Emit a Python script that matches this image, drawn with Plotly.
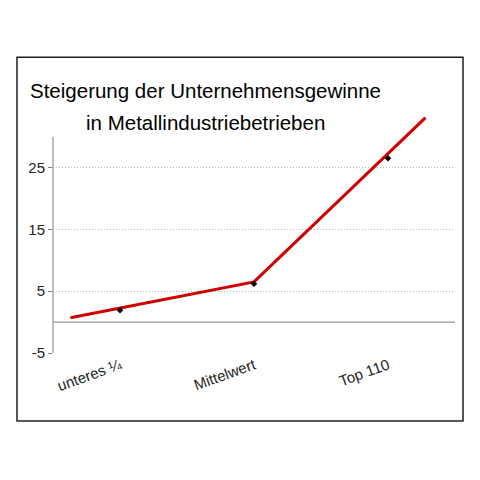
"""Line chart: Steigerung der Unternehmensgewinne in Metallindustriebetrieben."""

import plotly.graph_objects as go

# ---------------------------------------------------------------------------
# Data
# ---------------------------------------------------------------------------

CATEGORIES = ["unteres ¼", "Mittelwert", "Top 110"]
CATEGORY_POS = [0, 1, 2]
POINT_VALUES = [1.9, 6.2, 26.5]

# red trend line (x in category units)
TREND_X = [-0.37, 1.0, 2.28]
TREND_Y = [0.7, 6.5, 33.1]

Y_TICKS = [-5, 5, 15, 25]
Y_TICK_TEXT = ["-5", "5", "15", "25"]

TITLE_LINE_1 = "Steigerung der Unternehmensgewinne"
TITLE_LINE_2 = "in Metallindustriebetrieben"

LINE_COLOR = "#d00000"
AXIS_COLOR = "#808080"
GRID_COLOR = "#b4b4b4"
TEXT_COLOR = "#222222"
FONT = "Liberation Sans, Arial, sans-serif"

fig = go.Figure()

fig.add_trace(
    go.Scatter(
        x=TREND_X,
        y=TREND_Y,
        mode="lines",
        line=dict(color=LINE_COLOR, width=3),
        hoverinfo="skip",
        showlegend=False,
    )
)

fig.add_trace(
    go.Scatter(
        x=CATEGORY_POS,
        y=POINT_VALUES,
        mode="markers",
        marker=dict(symbol="diamond", size=5, color="black"),
        showlegend=False,
    )
)

# zero line
fig.add_shape(
    type="line", xref="paper", yref="y", x0=0, x1=1, y0=0, y1=0,
    line=dict(color=AXIS_COLOR, width=1),
)
# y axis line (stops at 30, the red line runs above it)
fig.add_shape(
    type="line", xref="paper", yref="y", x0=0, x1=0, y0=-5, y1=30,
    line=dict(color=AXIS_COLOR, width=1),
)
# outer frame
fig.add_shape(
    type="rect", xref="paper", yref="paper",
    x0=-0.0896, x1=1.0199, y0=-0.2818, y1=1.2267,
    line=dict(color="#222222", width=1.5),
)

fig.add_annotation(
    text=TITLE_LINE_1, xref="paper", yref="paper", x=0.38, y=1.09,
    showarrow=False, xanchor="center", yanchor="middle",
    font=dict(family=FONT, size=20.5, color="black"),
)
fig.add_annotation(
    text=TITLE_LINE_2, xref="paper", yref="paper", x=0.38, y=0.957,
    showarrow=False, xanchor="center", yanchor="middle",
    font=dict(family=FONT, size=20.5, color="black"),
)

# page body adds an 8px offset, so the figure is 472 wide/high
fig.update_layout(
    width=472,
    height=472,
    margin=dict(l=45, r=25, t=104, b=127),
    paper_bgcolor="white",
    plot_bgcolor="white",
    showlegend=False,
    xaxis=dict(
        range=[-0.5, 2.5],
        tickmode="array",
        tickvals=CATEGORY_POS,
        ticktext=CATEGORIES,
        tickangle=-20,
        tickfont=dict(family=FONT, size=15, color=TEXT_COLOR),
        showgrid=False,
        zeroline=False,
        showline=False,
        ticks="",
    ),
    yaxis=dict(
        range=[-5, 34],
        tickmode="array",
        tickvals=Y_TICKS,
        ticktext=Y_TICK_TEXT,
        tickfont=dict(family=FONT, size=15, color=TEXT_COLOR),
        showgrid=True,
        gridcolor=GRID_COLOR,
        griddash="1px,2px",
        gridwidth=1,
        zeroline=False,
        showline=False,
        ticks="outside",
        ticklen=4,
        tickcolor=AXIS_COLOR,
    ),
)

fig.write_html("out.html")
